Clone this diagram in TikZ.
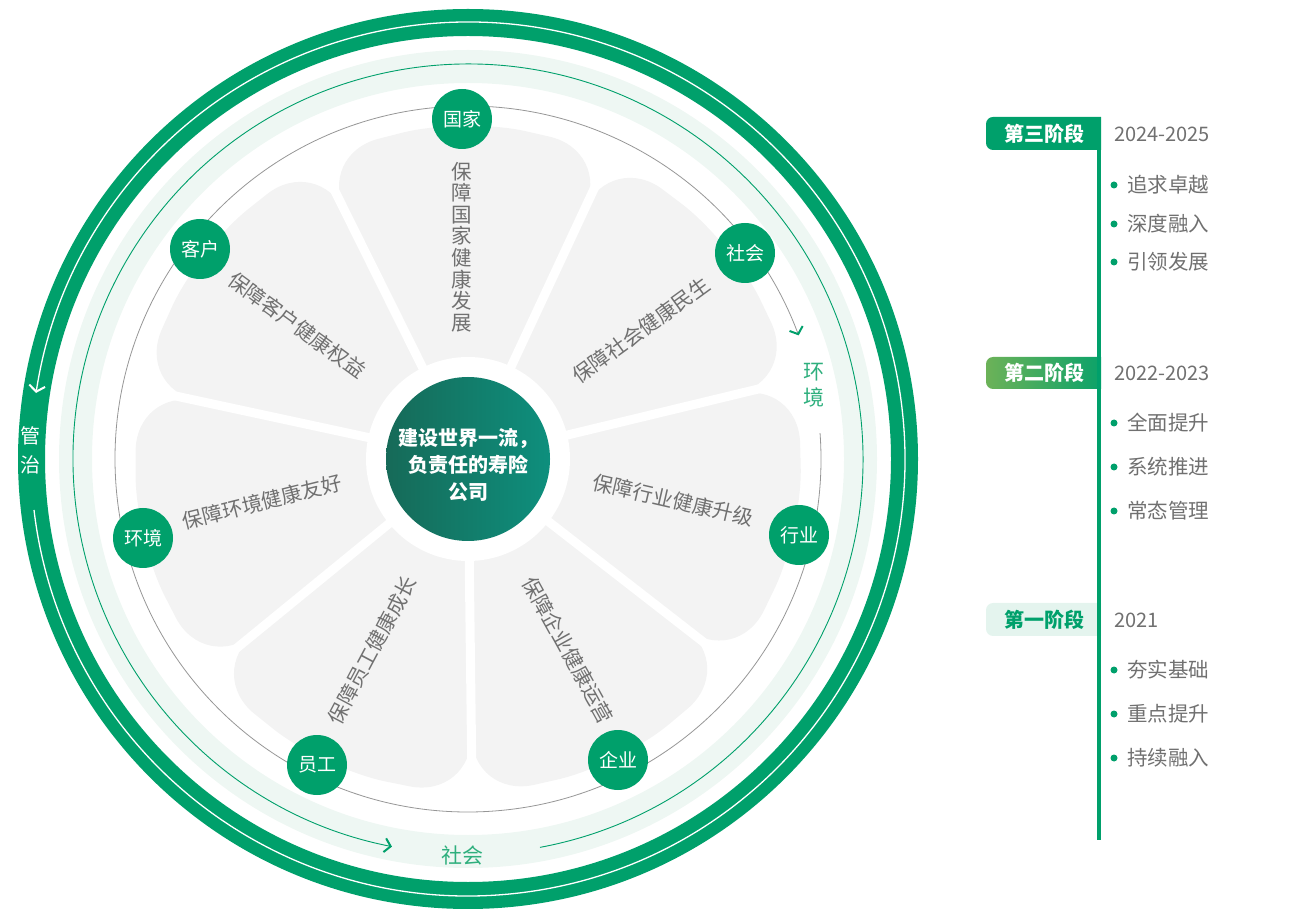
\documentclass[tikz,border=0pt]{standalone}
\usepackage{fontspec}
\setmainfont{Noto Sans CJK SC}
\usetikzlibrary{calc,arrows.meta}
\definecolor{gmain}{RGB}{0,160,107}
\definecolor{glight}{RGB}{238,247,243}
\definecolor{petalc}{RGB}{243,243,243}
\definecolor{gtext}{RGB}{112,112,112}
\definecolor{ringtxt}{RGB}{46,175,125}
\definecolor{cdark}{RGB}{22,106,88}
\definecolor{clight}{RGB}{14,143,125}
\definecolor{gline}{RGB}{150,150,150}
\definecolor{stagetwol}{RGB}{108,178,88}
\definecolor{stageonebg}{RGB}{228,244,238}
\newcommand\fsNode{\fontsize{19pt}{22pt}\selectfont}
\newcommand\fsPetal{\fontsize{20.5pt}{21.6pt}\selectfont}
\newcommand\fsCenter{\fontsize{20pt}{27pt}\selectfont\bfseries}
\newcommand\fsRing{\fontsize{21pt}{26pt}\selectfont}
\newcommand\fsStage{\fontsize{20pt}{24pt}\selectfont\bfseries}
\newcommand\fsYear{\fontsize{20pt}{24pt}\selectfont}
\newcommand\fsItem{\fontsize{20.5pt}{24pt}\selectfont}
\begin{document}
\begin{tikzpicture}[x=1pt,y=1pt,
  nd/.style={circle, fill=gmain, minimum size=60pt, inner sep=0pt, text=white, font=\fsNode},
  ptxt/.style={text=gtext, font=\fsPetal, inner sep=0pt},
  rtxt/.style={text=ringtxt, font=\fsRing, inner sep=0pt, align=center},
  stxt/.style={font=\fsStage, inner sep=0pt},
  ytxt/.style={text=gtext, font=\fsYear, inner sep=0pt, anchor=west},
  itxt/.style={text=gtext, font=\fsItem, inner sep=0pt, anchor=west},
  dotc/.style={circle, fill=gmain, minimum size=7pt, inner sep=0pt},
  tipw/.style={-{Straight Barb[length=6pt,width=16pt,line width=2pt]}},
  tipg/.style={-{Straight Barb[length=6pt,width=14pt,line width=2pt,color=gmain]}}
]
\useasboundingbox (0,0) rectangle (1303,908);
\coordinate (C) at (468,449);

% outer thick ring
\fill[gmain, even odd rule] (C) circle (450) (C) circle (423);
\draw[white, line width=1.3pt, tipw] ($(C)+(186.7:437)$) arc[start angle=186.7, end angle=531.3, radius=437];

% light band
\fill[glight, even odd rule] (C) circle (409) (C) circle (376);
\draw[gmain, line width=0.9pt, tipg] ($(C)+(280.5:395)$) arc[start angle=280.5, end angle=618.9, radius=395];

% gray circle
\draw[gline, line width=0.8pt, tipg] ($(C)+(4.2:353)$) arc[start angle=4.2, end angle=-339.5, radius=353];

% petals
\foreach \k in {0,...,6} {
  \pgfmathsetmacro\myang{90.7-51.4286*\k}
  \fill[petalc, rounded corners=64pt] (C) -- ($(C)+(\myang-25.714:340)$) -- ($(C)+(\myang:342)$) -- ($(C)+(\myang+25.714:340)$) -- cycle;
}
\foreach \k in {0,...,6} {
  \pgfmathsetmacro\myang{90.7+25.714-51.4286*\k}
  \draw[white, line width=9pt] (C) -- ($(C)+(\myang:350)$);
}
\fill[white] (C) circle (102);
\shade[left color=cdark, right color=clight] (C) circle (82);
\node[text=white, font=\fsCenter, align=center, inner sep=0pt] (core) at (468,443) {建设世界一流，\\负责任的寿险\\公司};

% nodes
\node[nd] (guojia) at (462,789) {国家};
\node[nd] (shehui) at (745,655) {社会};
\node[nd] (hangye) at (799,373) {行业};
\node[nd] (qiye) at (618,148) {企业};
\node[nd] (yuangong) at (317,143) {员工};
\node[nd] (huanjing) at (143,370) {环境};
\node[nd] (kehu) at (200,659) {客户};

% petal texts
\node[ptxt, align=center] (p1) at (462,661) {保\\障\\国\\家\\健\\康\\发\\展};
\node[ptxt, rotate=36] (p2) at (641,578) {保障社会健康民生};
\node[ptxt, rotate=-13] (p3) at (673,408) {保障行业健康升级};
\node[ptxt, rotate=-61] (p4) at (568,258) {保障企业健康运营};
\node[ptxt, rotate=62] (p5) at (372,258) {保障员工健康成长};
\node[ptxt, rotate=14] (p6) at (262,406) {保障环境健康友好};
\node[ptxt, rotate=-36] (p7) at (297,583) {保障客户健康权益};

% ring labels
\node[rtxt] (lshehui) at (462,53) {社会};
\node[rtxt] (lhuanjing) at (814,523) {环\\境};
\node[rtxt, text=white, font=\fontsize{20pt}{29pt}\selectfont] (lguanzhi) at (30,458) {管\\治};

% timeline
\coordinate (ltop) at (1099,791);
\coordinate (lbot) at (1099,68);
\begin{scope}
\clip (900,0) rectangle (1101,908);
\fill[gmain, rounded corners=7pt] (986,758) rectangle (1115,791);
\shade[left color=stagetwol, right color=gmain, rounded corners=7pt] (986,519) rectangle (1115,551);
\fill[stageonebg, rounded corners=7pt] (986,272) rectangle (1115,305);
\end{scope}
\draw[gmain, line width=4.5pt] (ltop) -- (lbot);
\node[stxt, text=white] (s3) at (1044,774) {第三阶段};
\node[stxt, text=white] (s2) at (1044,535) {第二阶段};
\node[stxt, text=gmain] (s1) at (1044,288) {第一阶段};
\node[ytxt] (y3) at (1114,774) {2024-2025};
\node[ytxt] (y2) at (1114,535) {2022-2023};
\node[ytxt] (y1) at (1114,288) {2021};

\foreach \yy/\tt [count=\i] in {723/追求卓越,684/深度融入,646/引领发展,485/全面提升,441/系统推进,397/常态管理,238/夯实基础,194/重点提升,150/持续融入} {
  \node[dotc] (d\i) at (1114,\yy) {};
  \node[itxt] (it\i) at (1127,\yy) {\tt};
}
\end{tikzpicture}
\end{document}
